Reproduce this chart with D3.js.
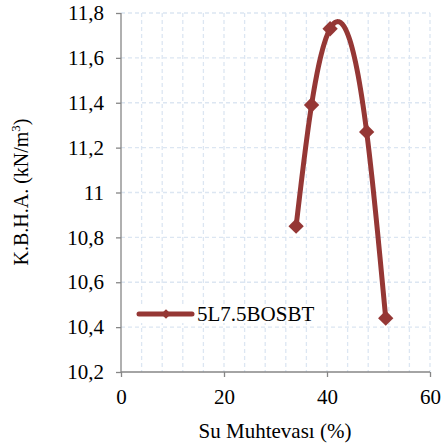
<!DOCTYPE html>
<html><head><meta charset="utf-8">
<script src="https://cdn.jsdelivr.net/npm/d3@7"></script>
</head><body style="margin:0">
<svg id="c" width="441" height="447" style="font-family:'Liberation Serif'"></svg>
<script>
const suMuhtevasi = [34.0, 37.0, 40.6, 47.7, 51.4];
const kbha = [10.85, 11.39, 11.73, 11.27, 10.44];
const seriesName = "5L7.5BOSBT";
const xTicks = [0, 20, 40, 60];
const yTicks = [10.2, 10.4, 10.6, 10.8, 11, 11.2, 11.4, 11.6, 11.8];
const xTitle = "Su Muhtevası (%)";

const svg = d3.select("#c");
const L = 121, R = 430, T = 13, B = 372;
const x = d3.scaleLinear().domain([0, 60]).range([L, R]);
const y = d3.scaleLinear().domain([10.2, 11.8]).range([B, T]);
const fmt = v => String(v).replace(".", ",");
const color = "#953735";
const FONT = "Liberation Serif";
const serif = (sel, size) => sel.attr("font-family", FONT).style("font-family", `"${FONT}"`)
  .style("font-size", size + "px").attr("fill", "#000");

// grid
const g = svg.append("g");
g.selectAll(".vg").data(d3.range(4, 61, 4)).enter().append("line")
  .attr("x1", d => x(d)).attr("x2", d => x(d)).attr("y1", T).attr("y2", B)
  .attr("stroke", "#dce6f2").attr("stroke-width", 1.3).attr("stroke-dasharray", "4,3");
g.selectAll(".hg").data(yTicks.slice(1)).enter().append("line")
  .attr("x1", L).attr("x2", R).attr("y1", d => y(d)).attr("y2", d => y(d))
  .attr("stroke", "#dce6f2").attr("stroke-width", 1.3).attr("stroke-dasharray", "4,3");

// axes
const yAxis = svg.append("g").attr("transform", `translate(${L},0)`)
  .call(d3.axisLeft(y).tickValues(yTicks).tickFormat(fmt).tickSize(5).tickPadding(12));
const xAxis = svg.append("g").attr("transform", `translate(0,${B})`)
  .call(d3.axisBottom(x).tickValues(xTicks).tickSize(5).tickPadding(12));
[yAxis, xAxis].forEach(a => {
  a.attr("font-family", FONT).attr("font-size", 21);
  a.select(".domain").attr("stroke", "#868686").attr("stroke-width", 1.3);
  a.selectAll(".tick line").attr("stroke", "#868686").attr("stroke-width", 1.3);
  serif(a.selectAll("text"), 21);
});
yAxis.select(".domain").attr("d", `M0,${T}V${B}`);
xAxis.select(".domain").attr("d", `M${L},0H${R}`);

// natural cubic spline y(x) through the data (Excel-like smoothed line)
function naturalSpline(xs, ys) {
  const n = xs.length, h = [], s = [];
  for (let i = 0; i < n - 1; i++) { h.push(xs[i+1]-xs[i]); s.push((ys[i+1]-ys[i])/h[i]); }
  const M = new Array(n).fill(0);
  const a = [], b = [], c = [], d = [];
  for (let i = 1; i < n - 1; i++) { a.push(h[i-1]); b.push(2*(h[i-1]+h[i])); c.push(h[i]); d.push(6*(s[i]-s[i-1])); }
  const m = b.length;
  for (let i = 1; i < m; i++) { const w = a[i]/b[i-1]; b[i] -= w*c[i-1]; d[i] -= w*d[i-1]; }
  const sol = new Array(m);
  sol[m-1] = d[m-1]/b[m-1];
  for (let i = m-2; i >= 0; i--) sol[i] = (d[i]-c[i]*sol[i+1])/b[i];
  for (let i = 0; i < m; i++) M[i+1] = sol[i];
  const out = [];
  for (let i = 0; i < n - 1; i++) {
    for (let k = 0; k <= 30; k++) {
      if (i > 0 && k === 0) continue;
      const t = h[i]*k/30, u = h[i]-t;
      const v = M[i]*u*u*u/(6*h[i]) + M[i+1]*t*t*t/(6*h[i])
        + (ys[i]/h[i] - M[i]*h[i]/6)*u + (ys[i+1]/h[i] - M[i+1]*h[i]/6)*t;
      out.push([xs[i]+t, v]);
    }
  }
  return out;
}
const curvePts = naturalSpline(suMuhtevasi, kbha);
const line = d3.line().x(d => x(d[0])).y(d => y(d[1]));
svg.append("path").attr("d", line(curvePts)).attr("fill", "none")
  .attr("stroke", color).attr("stroke-width", 5).attr("stroke-linejoin", "round");
const pts = suMuhtevasi.map((v, i) => [v, kbha[i]]);
const diamond = d3.symbol().type(d3.symbolDiamond2).size(150);
svg.selectAll(".m").data(pts).enter().append("path")
  .attr("d", diamond).attr("transform", d => `translate(${x(d[0])},${y(d[1])})`)
  .attr("fill", color);

// legend
const lg = svg.append("g");
lg.append("rect").attr("x", 132).attr("y", 304).attr("width", 150).attr("height", 19).attr("fill", "#fff");
lg.append("line").attr("x1", 139).attr("x2", 192).attr("y1", 314).attr("y2", 314)
  .attr("stroke", color).attr("stroke-width", 5).attr("stroke-linecap", "round");
lg.append("path").attr("d", d3.symbol().type(d3.symbolDiamond2).size(60))
  .attr("transform", "translate(166,314)").attr("fill", color);
serif(lg.append("text").attr("x", 197).attr("y", 321).text(seriesName), 21);

// titles
serif(svg.append("text").attr("x", 275).attr("y", 438).attr("text-anchor", "middle").text(xTitle), 21);
const yt = serif(svg.append("text").attr("transform", "translate(28,192) rotate(-90)").attr("text-anchor", "middle"), 20);
yt.append("tspan").text("K.B.H.A. (kN/m");
yt.append("tspan").style("font-size", "13px").attr("dy", -8).text("3");
yt.append("tspan").attr("dy", 8).text(")");
</script>
</body></html>
